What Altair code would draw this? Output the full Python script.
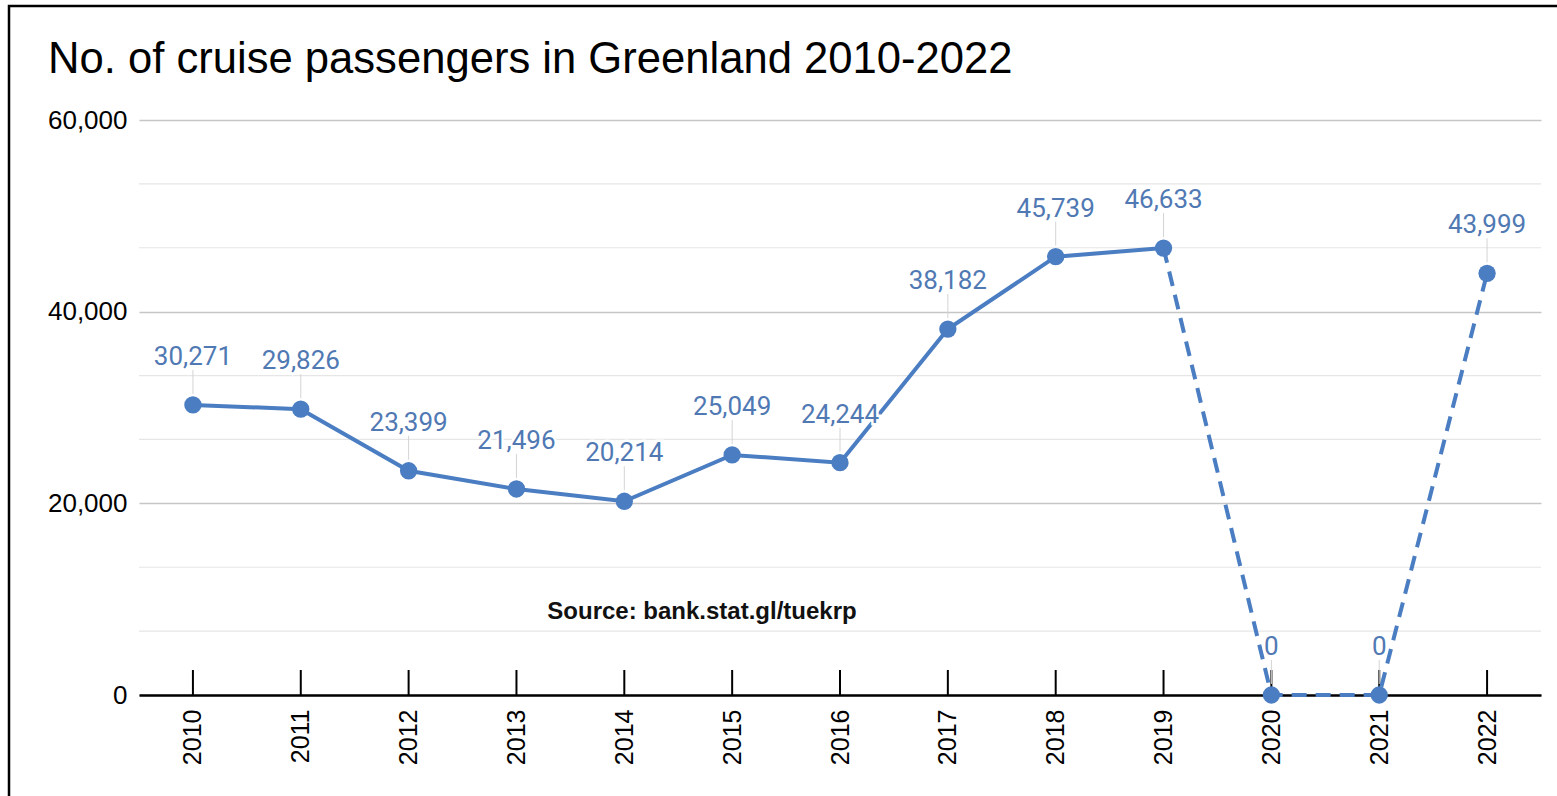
import altair as alt
import pandas as pd

years = ["2010", "2011", "2012", "2013", "2014", "2015", "2016",
         "2017", "2018", "2019", "2020", "2021", "2022"]
passengers = [30271, 29826, 23399, 21496, 20214, 25049, 24244,
              38182, 45739, 46633, 0, 0, 43999]
solid_years = years[:10]
dashed_years = years[9:]
major_ticks = [0, 20000, 40000, 60000]
minor_grid = [6667, 13333, 26667, 33333, 46667, 53333]
title_text = "No. of cruise passengers in Greenland 2010-2022"
source_text = "Source: bank.stat.gl/tuekrp"

BLUE = "#4a7dc1"
LABEL = "#5079b4"
W, H = 1402, 575

df = pd.DataFrame({"year": years, "value": passengers})
df["label"] = [f"{v:,}" for v in passengers]
df_solid = df[df["year"].isin(solid_years)]
df_dash = df[df["year"].isin(dashed_years)]
grid_df = pd.DataFrame({"g": minor_grid})

x_scale = alt.Scale(type="point", domain=years, padding=0.5)
x_enc = alt.X("year:O", scale=x_scale,
              axis=alt.Axis(title=None, labelAngle=270, labelFontSize=25,
                            labelFont="Liberation Sans", labelColor="#000000",
                            labelPadding=14, ticks=False, grid=False,
                            domainColor="#000000", domainWidth=2.5))
y_scale = alt.Scale(domain=[0, 60000], nice=False)
y_axis = alt.Axis(title=None, values=major_ticks,
                  labelExpr="format(datum.value, ',')",
                  labelFontSize=26, labelFont="Liberation Sans",
                  labelColor="#000000", labelPadding=12,
                  domain=False, ticks=False, gridColor="#c6c6c6",
                  gridWidth=1.6)
y_enc = alt.Y("value:Q", scale=y_scale, axis=y_axis)

base = alt.Chart(df)

frame_df = pd.DataFrame({"t": [title_text]})
border = alt.Chart(frame_df).mark_rect(
    fill=None, stroke="#000000", strokeWidth=2.5
).encode(x=alt.value(-130), x2=alt.value(W + 60),
         y=alt.value(-114), y2=alt.value(H + 150))

title = alt.Chart(frame_df).mark_text(
    align="left", baseline="alphabetic", fontSize=43.6,
    font="Liberation Sans", color="#000000"
).encode(x=alt.value(-91), y=alt.value(-47), text="t:N")

minor = alt.Chart(grid_df).mark_rule(color="#e6e6e6", strokeWidth=1.2).encode(
    y=alt.Y("g:Q", scale=y_scale, axis=y_axis)
)

xticks = base.mark_rule(color="#000000", strokeWidth=2).encode(
    x=x_enc, y=alt.value(H), y2=alt.value(H - 25)
)

leaders = base.mark_rule(color="#d4d4d4", strokeWidth=1, yOffset=-11,
                         y2Offset=-35).encode(
    x=x_enc, y=y_enc, y2="value:Q"
)

solid = alt.Chart(df_solid).mark_line(color=BLUE, strokeWidth=4).encode(
    x=x_enc, y=y_enc
)
dashed = alt.Chart(df_dash).mark_line(color=BLUE, strokeWidth=4,
                                      strokeDash=[15, 9]).encode(
    x=x_enc, y=y_enc
)
points = base.mark_circle(color=BLUE, size=300, opacity=1).encode(
    x=x_enc, y=y_enc
)
halo = base.mark_text(dy=-48, fontSize=26, font="Roboto", stroke="white",
                      strokeWidth=5, color="white").encode(
    x=x_enc, y=y_enc, text="label:N"
)
labels = base.mark_text(dy=-48, fontSize=26, font="Roboto", color=LABEL).encode(
    x=x_enc, y=y_enc, text="label:N"
)
source = alt.Chart(pd.DataFrame({"t": [source_text]})).mark_text(
    fontSize=24, font="Liberation Sans", fontWeight="bold", color="#111111"
).encode(x=alt.value(563), y=alt.value(492), text="t:N")

chart = alt.layer(
    border, title, minor, xticks, leaders, solid, dashed, points, halo, labels,
    source
).properties(
    width=W, height=H,
    background="white",
    padding={"left": 139, "top": 120, "right": 16, "bottom": 101},
    autosize=alt.AutoSizeParams(type="none"),
).configure_view(stroke=None)

chart.save("out.html", embed_options={"renderer": "svg", "actions": False})
